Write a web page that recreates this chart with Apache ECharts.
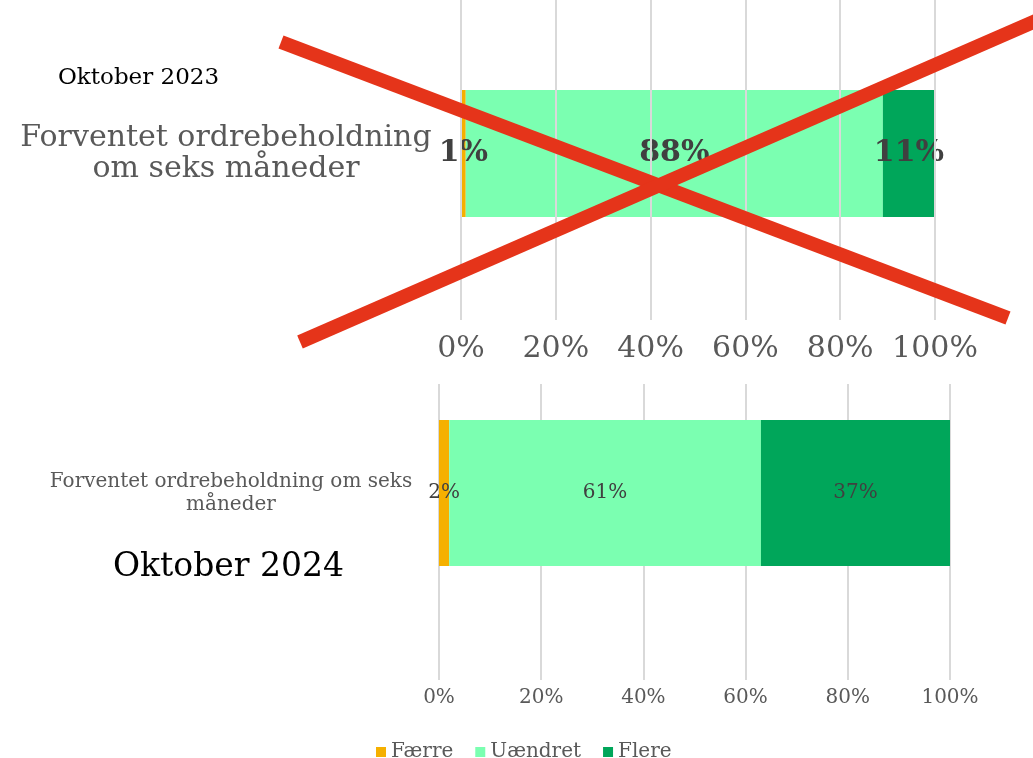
<!DOCTYPE html>
<html>
<head>
<meta charset="utf-8">
<script src="https://cdn.jsdelivr.net/npm/echarts@6/dist/echarts.min.js"></script>
<style>
html,body{margin:0;padding:0;background:#fff;overflow:hidden;}
/* chart is shifted up 13px so the top grid can start above the page edge */
#main{position:absolute;left:0;top:-13px;width:1033px;height:771px;}
</style>
</head>
<body>
<div id="main"></div>
<script>
// data
var categories = ['Forventet ordrebeholdning om seks måneder'];
var seriesNames = ['Færre', 'Uændret', 'Flere'];
var values2023 = [1, 88, 11];
var values2024 = [2, 61, 37];
var periodLabels = ['Oktober 2023', 'Oktober 2024'];
var colors = ['#F5B000', '#7BFFB1', '#00A65A'];

var FONT = "'DejaVu Serif', serif";
var DY = 13; // page y -> chart y

var myChart = echarts.init(document.getElementById('main'));

function makeSeries(values, idx, barW, fs, bold){
    return values.map(function(v, i){
        return {
            name: seriesNames[i],
            type: 'bar',
            stack: 's' + idx,
            xAxisIndex: idx,
            yAxisIndex: idx,
            barWidth: barW,
            itemStyle: {color: colors[i]},
            label: {
                show: true,
                position: 'inside',
                formatter: '{c}%',
                fontFamily: FONT,
                fontSize: fs,
                fontWeight: bold ? 'bold' : 'normal',
                color: '#404040'
            },
            data: [v]
        };
    });
}

var option = {
    animation: false,
    textStyle: {fontFamily: FONT},
    legend: {
        data: seriesNames,
        left: 371,
        top: 737 + DY,
        icon: 'rect',
        itemWidth: 10,
        itemHeight: 10,
        itemGap: 22,
        textStyle: {fontFamily: FONT, fontSize: 20, color: '#595959'}
    },
    grid: [
        {left: 461, right: 98, top: 0, bottom: 438},
        {left: 439, right: 83, top: 306 + DY, bottom: 78}
    ],
    xAxis: [
        {
            type: 'value', gridIndex: 0, min: 0, max: 100, interval: 20, z: 10,
            axisLine: {show: false}, axisTick: {show: false},
            splitLine: {lineStyle: {color: '#d9d9d9', width: 2}},
            axisLabel: {formatter: '{value}%', fontFamily: FONT, fontSize: 30, color: '#595959', margin: 14}
        },
        {
            type: 'value', gridIndex: 1, min: 0, max: 100, interval: 20,
            axisLine: {show: false}, axisTick: {show: false},
            splitLine: {lineStyle: {color: '#d9d9d9', width: 2}},
            axisLabel: {formatter: '{value}%', fontFamily: FONT, fontSize: 20, color: '#595959', margin: 8}
        }
    ],
    yAxis: [
        {
            type: 'category', gridIndex: 0, data: categories,
            axisLine: {show: false}, axisTick: {show: false},
            axisLabel: {
                formatter: function(v){ return v.replace(' om seks', '\nom seks'); },
                align: 'center', margin: 235, lineHeight: 31,
                fontFamily: FONT, fontSize: 30, color: '#595959'
            }
        },
        {
            type: 'category', gridIndex: 1, data: categories,
            axisLine: {show: false}, axisTick: {show: false},
            axisLabel: {
                formatter: function(v){ return v.replace(' måneder', '\nmåneder'); },
                align: 'center', margin: 208, lineHeight: 23,
                fontFamily: FONT, fontSize: 20, color: '#595959'
            }
        }
    ],
    graphic: [
        {type: 'rect', z: 5, silent: true, shape: {x: 380, y: 300 + DY, width: 653, height: 84}, style: {fill: '#fff'}},
        {type: 'text', z: 5, left: 58, top: 67 + DY, style: {text: periodLabels[0], font: "23px 'DejaVu Serif', serif", fill: '#000'}},
        {type: 'text', z: 5, left: 113, top: 551 + DY, style: {text: periodLabels[1], font: "33px 'DejaVu Serif', serif", fill: '#000'}},
        {type: 'line', z: 20, silent: true, shape: {x1: 281, y1: 42 + DY, x2: 1008, y2: 318 + DY}, style: {stroke: '#E5341A', lineWidth: 14}},
        {type: 'line', z: 20, silent: true, shape: {x1: 300, y1: 342 + DY, x2: 1040, y2: 19 + DY}, style: {stroke: '#E5341A', lineWidth: 14}}
    ],
    series: makeSeries(values2023, 0, 127, 30, true).concat(makeSeries(values2024, 1, 146, 20, false))
};
myChart.setOption(option);
</script>
</body>
</html>
